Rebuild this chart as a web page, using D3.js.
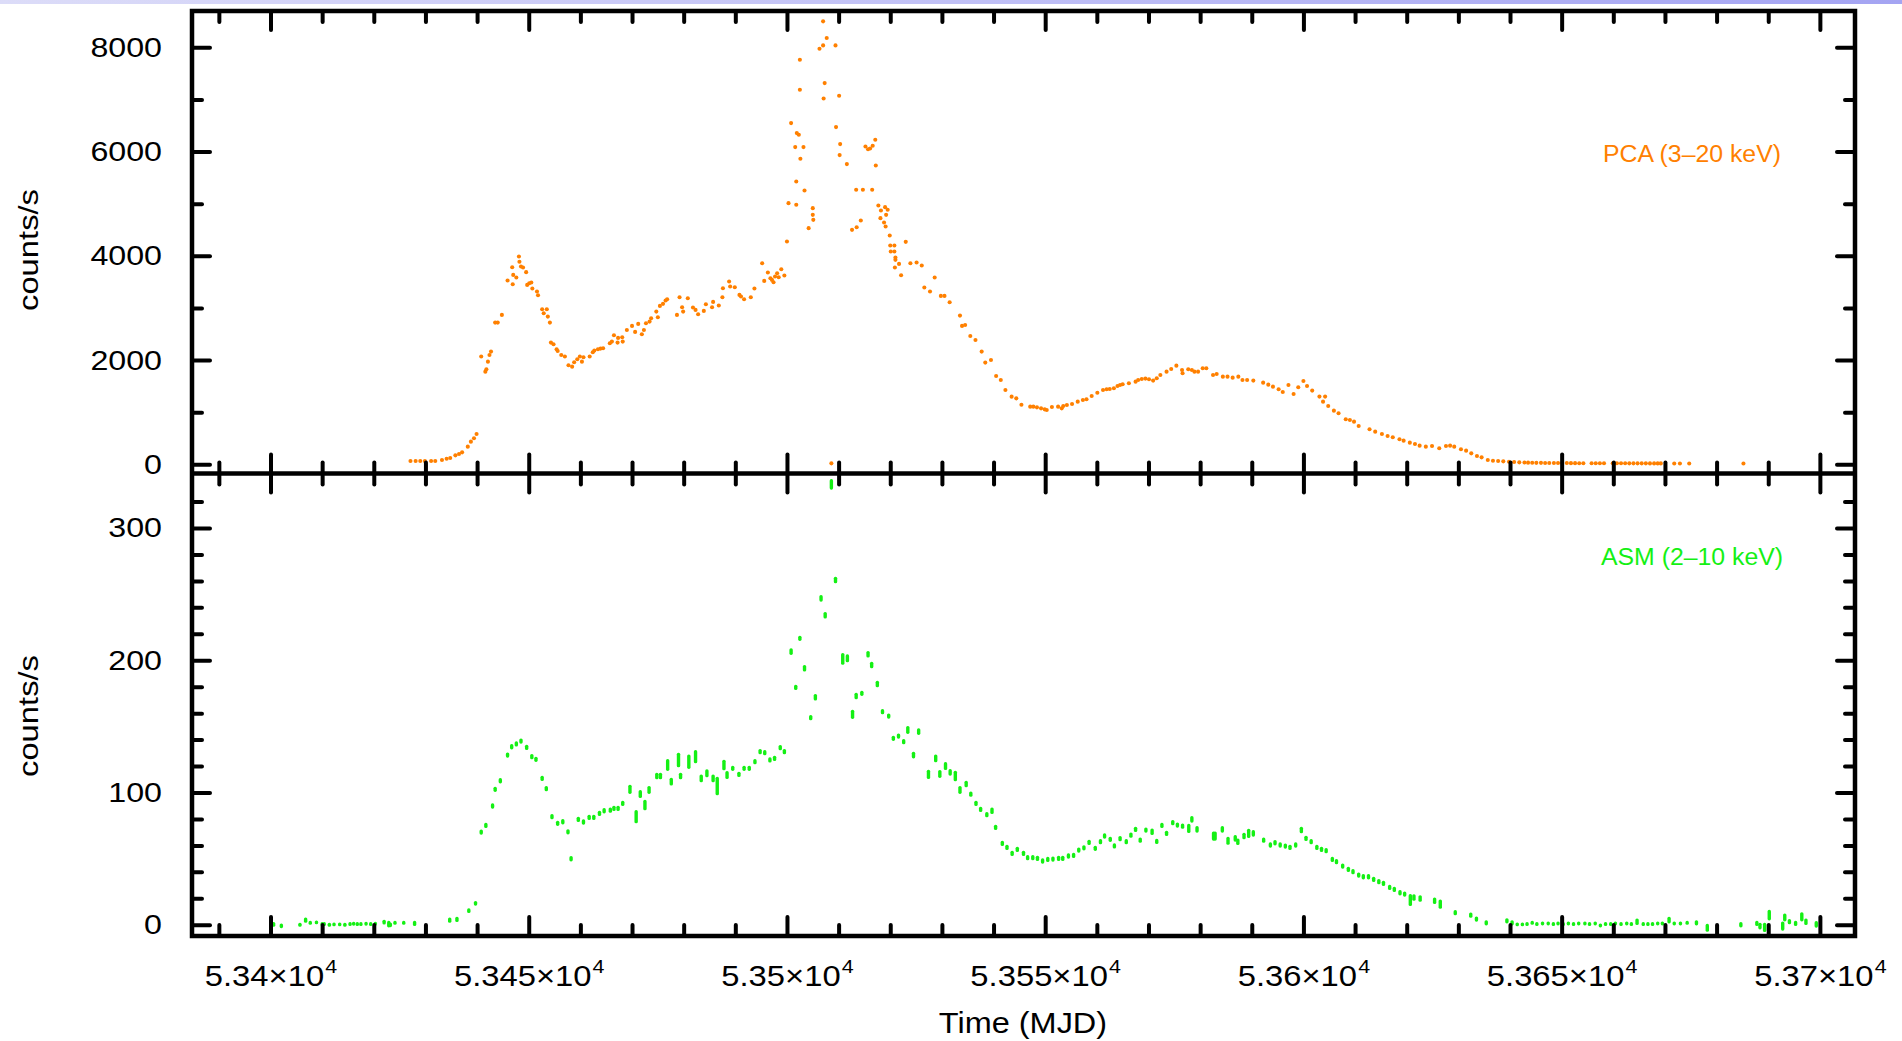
<!DOCTYPE html>
<html><head><meta charset="utf-8">
<script src="https://cdn.jsdelivr.net/npm/d3@7"></script>
<style>
html,body{margin:0;padding:0;background:#fff;overflow:hidden;}
svg{display:block;}
text{font-family:"Liberation Sans",Arial,Helvetica,sans-serif;}
</style></head><body>
<svg id="chart" width="1902" height="1041"></svg>
<script>
// ---------- DATA ----------
// PCA (3-20 keV) light curve: [MJD, counts/s]
const pcaData = [
[53427.1,63],[53428.1,63],[53429.0,63],[53429.9,63],[53431.1,63],[53431.9,63],[53433.2,83],[53434.1,108],
[53434.8,121],[53435.8,172],[53436.5,198],[53437.1,230],[53438.2,339],[53438.8,435],[53439.4,499],[53439.9,582],
[53440.8,2067],[53441.6,1778],[53441.8,1823],[53442.1,1970],[53442.4,2098],[53442.7,2162],[53443.5,2719],[53444.0,2719],
[53444.8,2866],[53445.9,3525],[53446.8,3781],[53446.9,3455],[53447.0,3634],[53447.6,3583],[53448.1,3987],[53448.2,3885],
[53448.5,3795],[53448.9,3775],[53449.5,3686],[53449.7,3442],[53450.1,3474],[53450.5,3487],[53450.7,3372],[53451.6,3314],
[53451.8,3244],[53452.6,2975],[53452.9,2898],[53453.5,2975],[53453.7,2834],[53454.1,2719],[53454.3,2335],[53454.8,2303],
[53455.4,2207],[53455.6,2175],[53456.3,2098],[53457.0,2067],[53457.7,1900],[53458.4,1874],[53458.8,1957],[53459.4,2015],
[53459.9,2067],[53460.3,1970],[53460.6,2053],[53461.8,2067],[53462.4,2150],[53462.7,2182],[53463.4,2207],[53463.9,2220],
[53464.4,2226],[53465.7,2322],[53466.1,2354],[53466.5,2476],[53467.2,2335],[53467.3,2425],[53468.1,2438],[53468.2,2354],
[53469.0,2578],[53470.0,2655],[53470.6,2540],[53471.2,2694],[53471.9,2495],[53472.3,2578],[53472.7,2706],[53473.4,2738],
[53473.7,2802],[53474.7,2930],[53475.0,2821],[53475.4,3039],[53476.0,3078],[53476.5,3142],[53476.8,3167],[53478.7,2866],
[53479.2,3206],[53479.7,3014],[53479.9,2930],[53480.8,3187],[53481.8,3007],[53482.3,2962],[53482.8,2879],[53483.9,2943],
[53484.3,3071],[53485.5,3014],[53485.7,3116],[53486.8,3046],[53487.5,3206],[53487.6,3378],[53488.8,3506],[53489.0,3410],
[53489.9,3397],[53490.8,3250],[53491.1,3218],[53491.7,3167],[53493.0,3206],[53493.7,3372],[53495.2,3858],[53495.6,3519],
[53496.3,3679],[53496.8,3570],[53497.1,3538],[53497.4,3493],[53497.7,3602],[53498.1,3666],[53498.4,3589],[53498.9,3743],
[53499.5,3621],[53500.0,4274],[53500.3,5010],[53500.8,6546],[53501.6,6085],[53501.8,4978],[53501.8,5426],[53501.9,6354],
[53502.3,6322],[53502.5,7185],[53502.5,7761],[53502.6,5861],[53503.2,6085],[53503.4,5253],[53504.2,4530],[53505.0,4914],
[53505.0,4786],[53505.1,4690],[53506.3,7972],[53507.0,8036],[53507.0,8497],[53507.1,7018],[53507.3,7313],[53507.7,8177],
[53508.6,19],[53509.4,8036],[53509.5,6469],[53510.1,7070],[53510.2,5932],[53510.3,6143],[53511.6,5759],[53512.6,4498],
[53513.4,5266],[53513.5,4549],[53514.3,4677],[53514.7,5266],[53515.2,6098],[53515.7,6045],[53516.1,6059],[53516.5,5266],
[53516.6,6110],[53517.1,6226],[53517.2,5733],[53517.7,4965],[53518.1,4722],[53518.2,4869],[53518.8,4639],[53519.0,4933],
[53519.1,4562],[53519.2,4786],[53519.5,4882],[53519.9,4389],[53520.0,4197],[53520.1,4082],[53520.8,4197],[53520.8,4082],
[53520.9,3775],[53521.0,3967],[53521.0,3922],[53521.7,3845],[53522.1,3628],[53523.0,4268],[53523.9,3858],[53525.1,3871],
[53526.1,3813],[53526.6,3391],[53527.7,3314],[53528.6,3583],[53529.8,3231],[53530.5,3231],[53531.5,3109],[53533.5,2853],
[53533.9,2655],[53534.5,2674],[53535.5,2463],[53536.5,2386],[53537.7,2162],[53538.4,1951],[53539.5,2002],[53540.5,1695],
[53541.4,1618],[53542.3,1426],[53543.5,1298],[53544.4,1266],[53545.4,1144],[53547.1,1106],[53547.7,1106],[53548.4,1093],
[53549.2,1074],[53549.9,1055],[53550.3,1042],[53551.3,1099],[53552.5,1106],[53553.2,1074],[53553.5,1118],[53554.2,1138],
[53555.2,1157],[53556.3,1202],[53557.3,1234],[53558.0,1247],[53559.0,1310],[53560.1,1374],[53561.2,1427],[53561.9,1440],
[53562.5,1446],[53563.3,1459],[53564.0,1502],[53564.5,1522],[53565.0,1535],[53566.2,1554],[53567.5,1586],[53568.0,1618],
[53568.7,1638],[53569.4,1644],[53570.1,1632],[53570.9,1606],[53571.6,1650],[53572.3,1714],[53573.5,1778],[53574.4,1829],
[53575.4,1893],[53576.5,1810],[53576.6,1746],[53577.7,1823],[53578.4,1810],[53578.9,1778],[53579.6,1778],[53580.5,1842],
[53581.2,1842],[53582.5,1714],[53583.2,1734],[53584.4,1682],[53585.3,1682],[53586.3,1663],[53587.4,1682],[53588.2,1618],
[53589.1,1618],[53590.3,1606],[53592.2,1567],[53593.2,1528],[53594.1,1490],[53595.2,1440],[53596.0,1388],[53597.1,1522],
[53598.1,1350],[53599.0,1478],[53600.0,1599],[53600.7,1502],[53601.7,1414],[53603.1,1299],[53603.8,1202],[53604.2,1299],
[53604.8,1119],[53605.9,1030],[53606.8,979],[53608.2,864],[53609.0,851],[53609.8,819],[53610.7,736],[53612.8,672],
[53613.9,627],[53615.2,582],[53616.3,544],[53617.3,518],[53618.6,480],[53619.4,454],[53620.6,416],[53621.6,390],
[53622.5,358],[53623.7,339],[53624.9,352],[53626.3,307],[53627.6,352],[53628.4,358],[53629.2,339],[53630.5,288],
[53631.5,262],[53632.5,211],[53633.6,160],[53634.5,134],[53635.7,83],[53636.7,70],[53637.7,63],[53638.7,57],
[53639.8,50],[53640.8,44],[53641.8,38],[53642.8,35],[53643.5,32],[53644.3,30],[53645.1,28],[53646.0,28],
[53646.8,26],[53647.6,26],[53648.5,25],[53649.3,25],[53650.1,24],[53651.0,24],[53651.8,23],[53652.6,23],
[53653.4,22],[53654.2,22],[53655.8,22],[53656.6,21],[53657.4,21],[53658.2,21],[53659.9,20],[53660.7,20],
[53661.5,20],[53662.3,20],[53663.1,19],[53663.9,19],[53664.7,19],[53665.5,19],[53666.3,19],[53667.1,18],
[53667.9,18],[53668.6,18],[53669.2,18],[53671.8,17],[53672.9,17],[53674.7,17],[53685.2,17]
];
// ASM (2-10 keV) light curve: [MJD, counts/s, error]
const asmData = [
[53400.6,0.3,1.8],[53402.1,-0.8,1.8],[53405.7,0,1.5],[53406.8,3.5,2],[53407.7,1.5,1.5],[53408.9,1.8,1.5],[53410.0,0.5,1.5],
[53410.4,0.5,1.5],[53411.4,0,1.5],[53412.3,0.3,1.5],[53413.4,0.3,1.5],[53414.4,0,1.5],[53415.4,0.5,1.5],[53416.1,0.8,1.5],
[53416.8,0.5,1.5],[53417.5,0.5,1.5],[53418.5,0.8,1.5],[53419.4,0.5,1.5],[53420.3,0.8,1.5],[53422.0,2,1.8],[53422.9,0.5,2.5],
[53423.2,0,1.8],[53424.1,1.5,1.5],[53425.8,1.5,1.5],[53427.9,1,2],[53434.7,3.5,2],[53436.1,4,2],[53438.4,10.6,1.8],
[53439.7,16.2,1.8],[53440.8,70.1,2],[53441.7,75.1,2],[53443.0,89.8,2],[53443.5,102.4,2],[53444.5,108.9,2],[53445.9,128.3,2],
[53446.7,134.6,2],[53447.6,136.7,2],[53448.5,138.9,2],[53449.6,134.1,2],[53450.6,127.1,2],[53451.4,125.1,2],[53452.6,110.7,2],
[53453.4,102.9,2],[53454.5,81.7,2],[53455.6,76.7,2],[53456.6,77.9,2],[53457.6,70.3,2],[53458.2,49.9,2],[53459.6,79.7,2],
[53460.6,77.7,2],[53461.7,81.2,2],[53462.6,81.2,2],[53463.7,84.2,2],[53464.6,86.2,2],[53465.8,86.7,2],[53466.5,88,2],
[53467.3,88,2],[53468.2,91.8,2],[53469.6,102.4,3.5],[53470.8,81.7,5],[53471.6,98.8,3],[53472.5,90.5,4],[53473.3,101.9,3],
[53474.8,112.5,2.5],[53475.5,112.5,2.5],[53476.9,120.8,4.5],[53477.6,108.2,3],[53479.0,124.6,5.5],[53479.4,112.5,2.5],
[53481.0,123.3,5.5],[53482.3,127.1,5],[53483.4,110.7,3],[53484.5,114.5,3],[53485.7,110.7,3],[53486.5,104.9,7],
[53487.8,120.8,4],[53488.4,113.2,3],[53489.5,118.3,2],[53490.7,113.7,2],[53491.7,118.3,2],[53492.7,118.3,2],[53493.8,123.3,2],
[53494.8,130.9,2],[53495.7,130.1,2],[53496.7,124.6,2],[53497.6,125.8,2],[53498.7,133.9,2],[53499.5,130.9,2],
[53500.8,206.5,2.5],[53501.7,179.5,2],[53502.5,216.6,2],[53503.4,193.9,2.5],[53504.6,156.6,2],[53505.5,172,2.5],
[53506.6,246.8,2.5],[53507.4,234,2.5],[53508.6,333,4],[53509.4,260.7,2.5],[53510.8,201,4.5],[53511.7,201.5,3],
[53512.7,159.1,3.5],[53513.4,173,2.5],[53514.5,175,2],[53515.7,204.5,2.5],[53516.4,196.4,2.5],[53517.5,182,2.5],
[53518.5,161.1,2],[53519.7,157.8,2],[53520.6,141,2],[53521.6,142.7,2],[53522.6,138.4,2],[53523.4,147.3,3],[53524.5,128.3,2.5],
[53525.5,146,2.5],[53527.4,113.7,3.5],[53528.8,125.8,3],[53529.6,114,3],[53530.7,120,3],[53531.6,115.2,2.5],[53532.6,112.5,4],
[53533.5,101.9,3],[53534.7,106.4,2.5],[53535.6,98.8,2],[53536.6,91.8,2],[53537.5,87.2,2],[53538.7,83.2,2],[53539.7,86.2,2.5],
[53540.4,73.6,2],[53541.7,61.5,2],[53542.6,58.5,2],[53543.6,54,2],[53544.6,57,2],[53545.8,54,2],[53546.6,50.7,2],
[53547.6,50.7,2],[53548.5,50.2,2],[53549.5,48.2,2],[53550.5,49.4,2],[53551.5,49.7,2],[53552.6,50.2,2],[53553.4,50.2,2],
[53554.5,52,2],[53555.5,52.4,2],[53556.5,56.5,2],[53557.5,58.2,2],[53558.5,62.3,2],[53559.7,57.8,2],[53560.7,62.8,2],
[53561.5,67.1,2],[53562.6,64.6,2],[53563.4,59.6,2],[53564.5,65.1,2],[53565.7,62.8,2],[53566.6,67.8,2],[53567.5,72.1,2],
[53568.4,64,2],[53569.5,71.6,2],[53570.7,70.3,2.5],[53571.6,63,2],[53572.6,75.1,2],[53573.5,69.1,2],[53574.7,77.2,2],
[53575.6,75.4,2],[53576.6,74.6,2],[53577.8,72.8,3.5],[53578.4,79.7,2.5],[53579.4,72.1,2.5],[53582.6,67.1,3.5],
[53582.9,67.1,3.5],[53584.3,72.1,2.5],[53585.4,63.5,3],[53586.8,65.3,2.5],[53587.3,62.8,2.5],[53588.5,67.1,2.5],
[53589.4,69.1,3.5],[53590.3,69.1,2.5],[53592.3,64,2],[53593.6,60.3,2],[53594.5,62,2],[53595.5,60.3,2],[53596.5,59.5,2],
[53597.4,58.5,2],[53598.5,60.3,2],[53599.6,71.6,2.5],[53600.5,65.3,2],[53601.5,62.8,2],[53602.6,58.5,2],[53603.5,57,2],
[53604.4,56,2],[53605.6,49.4,2],[53606.4,47.7,2],[53607.6,44.4,2],[53608.7,41.9,2],[53609.6,40.1,2],[53610.7,37.6,2],
[53611.6,36.3,2],[53612.6,36.3,2],[53613.6,34.3,2],[53614.6,32.6,2],[53615.5,31.3,2],[53616.7,28.2,2],[53617.6,26.7,2],
[53618.7,24.2,2],[53619.6,23.2,2],[53620.7,18.7,4.5],[53621.4,20.6,2.5],[53622.6,19.9,2.5],[53625.4,18.2,2.5],
[53626.5,15.6,3.5],[53629.4,9.1,2],[53632.4,7.3,2],[53633.5,4.3,2],[53635.4,1.5,2],[53639.4,3,2],[53640.4,1.5,2],
[53641.4,0.3,1.5],[53642.4,0.3,1.5],[53643.3,0.5,1.5],[53644.3,1.5,1.5],[53645.2,0.5,1.5],[53646.3,1,1.5],[53647.4,1,1.5],
[53648.4,0.5,1.5],[53649.3,1,1.5],[53650.3,0.5,1.5],[53651.3,1,1.5],[53652.3,0.5,1.5],[53653.3,1,1.5],[53654.5,1,1.5],
[53655.4,0.5,1.5],[53656.5,1,1.5],[53657.5,-0.5,1.5],[53658.5,0.5,1.5],[53659.5,0.5,1.5],[53660.4,1,1.5],[53661.5,0.5,1.5],
[53662.6,1,1.5],[53663.5,0.5,1.5],[53664.6,2.3,2.5],[53665.8,0.5,1.5],[53666.7,0.5,1.5],[53667.6,0.5,1.5],[53668.6,1,1.5],
[53669.5,1,1.5],[53670.8,3.5,2.5],[53671.8,1,1.5],[53673.0,1,1.5],[53674.3,1.5,1.5],[53676.1,1.5,2],[53678.2,-2.3,3],
[53684.7,0,2],[53687.8,1,2],[53688.4,-1,2.5],[53689.3,-2,3.5],[53690.2,7.3,4],[53692.8,-1,3.5],[53693.2,5.5,3],
[53694.1,2.3,2],[53695.3,1,2],[53696.5,6,3.5],[53697.3,2.3,2.5],[53699.3,0.3,2.5]
];
const xMajorTicks = [53400, 53450, 53500, 53550, 53600, 53650, 53700];
const xTickMantissa = ["5.34", "5.345", "5.35", "5.355", "5.36", "5.365", "5.37"];
const xTickExponent = "4";
const pcaYTicks = [0, 2000, 4000, 6000, 8000];
const asmYTicks = [0, 100, 200, 300];
const pcaLabel = "PCA (3–20 keV)";
const asmLabel = "ASM (2–10 keV)";
const yTitle = "counts/s";
const xTitle = "Time (MJD)";

// ---------- LAYOUT ----------
const W = 1902, H = 1041;
const L = 192, R = 1855, T = 11, M = 473.5, B = 936;
const orange = "#ff8000", green = "#14f014";
const svg = d3.select("#chart");

const defs = svg.append("defs");
const grad = defs.append("linearGradient").attr("id", "band").attr("x1", 0).attr("x2", 1).attr("y1", 0).attr("y2", 0);
grad.append("stop").attr("offset", "0%").attr("stop-color", "#dcdcf8");
grad.append("stop").attr("offset", "100%").attr("stop-color", "#a4a4f2");
svg.append("rect").attr("x", 0).attr("y", 0).attr("width", W).attr("height", 4).attr("fill", "url(#band)");

const x = d3.scaleLinear().domain([53384.8, 53706.8]).range([L, R]);
const y1 = d3.scaleLinear().domain([-176, 8696]).range([M, T]);
const y2 = d3.scaleLinear().domain([-8.5, 341.2]).range([B, M]);

defs.append("clipPath").attr("id", "c1").append("rect").attr("x", L).attr("y", T).attr("width", R - L).attr("height", M - T);
defs.append("clipPath").attr("id", "c2").append("rect").attr("x", L).attr("y", M).attr("width", R - L).attr("height", B - M);

// data marks
svg.append("g").attr("clip-path", "url(#c1)")
  .selectAll("circle").data(pcaData).join("circle")
  .attr("cx", d => x(d[0])).attr("cy", d => y1(d[1])).attr("r", 2.05).attr("fill", orange);

svg.append("g").attr("clip-path", "url(#c2)")
  .selectAll("rect").data(asmData).join("rect")
  .attr("x", d => x(d[0]) - 1.7).attr("width", 3.4)
  .attr("y", d => y2(d[1] + d[2]))
  .attr("height", d => y2(d[1] - d[2]) - y2(d[1] + d[2]))
  .attr("rx", 1.6).attr("fill", green);

// ---------- AXES ----------
const xMinor = d3.range(53390, 53707, 10).filter(v => !xMajorTicks.includes(v));
function styleAxis(g) {
  g.select(".domain").remove();
  g.selectAll(".tick line").attr("stroke", "#000").attr("stroke-width", 4).attr("stroke-linecap", "round");
}
function xAxisPair(yPos, gen, majorLen, minorLen) {
  svg.append("g").attr("transform", `translate(0,${yPos})`)
    .call(gen(x).tickValues(xMajorTicks).tickSize(majorLen).tickFormat(""))
    .call(styleAxis);
  svg.append("g").attr("transform", `translate(0,${yPos})`)
    .call(gen(x).tickValues(xMinor).tickSize(minorLen).tickFormat(""))
    .call(styleAxis);
}
xAxisPair(T, d3.axisTop, -19, -11);
xAxisPair(M, d3.axisBottom, -19, -11);
xAxisPair(M, d3.axisTop, -19, -11);
const xb = svg.append("g").attr("transform", `translate(0,${B})`)
  .call(d3.axisBottom(x).tickValues(xMajorTicks).tickSize(-19).tickFormat((d, i) => xTickMantissa[i] + "×10"))
  .call(styleAxis);
xb.attr("font-size", null).attr("font-family", null);
xb.selectAll(".tick text")
  .attr("y", 50).attr("dy", 0).attr("fill", "#000")
  .style("font-size", "29px")
  .attr("transform", "scale(1.13,1)")
  .each(function () {
    d3.select(this).append("tspan").attr("dy", -13).attr("dx", 1).style("font-size", "19px").text(xTickExponent);
  });
svg.append("g").attr("transform", `translate(0,${B})`)
  .call(d3.axisBottom(x).tickValues(xMinor).tickSize(-11).tickFormat(""))
  .call(styleAxis);

function yAxes(scale, majors, minors) {
  const gl = svg.append("g").attr("transform", `translate(${L},0)`)
    .call(d3.axisLeft(scale).tickValues(majors).tickSize(-18).tickPadding(30).tickFormat(d3.format("d")))
    .call(styleAxis);
  gl.attr("font-size", null).attr("font-family", null);
  gl.selectAll(".tick text").attr("fill", "#000").style("font-size", "28px")
    .attr("x", -30 / 1.15).attr("transform", "scale(1.15,1)");
  svg.append("g").attr("transform", `translate(${L},0)`)
    .call(d3.axisLeft(scale).tickValues(minors).tickSize(-10).tickFormat("")).call(styleAxis);
  svg.append("g").attr("transform", `translate(${R},0)`)
    .call(d3.axisRight(scale).tickValues(majors).tickSize(-18).tickFormat("")).call(styleAxis);
  svg.append("g").attr("transform", `translate(${R},0)`)
    .call(d3.axisRight(scale).tickValues(minors).tickSize(-10).tickFormat("")).call(styleAxis);
}
yAxes(y1, pcaYTicks, [1000, 3000, 5000, 7000]);
yAxes(y2, asmYTicks, d3.range(20, 340, 20).filter(v => !asmYTicks.includes(v)));

// frame
svg.append("rect").attr("x", L).attr("y", T).attr("width", R - L).attr("height", B - T)
  .attr("fill", "none").attr("stroke", "#000").attr("stroke-width", 4.5);
svg.append("line").attr("x1", L).attr("x2", R).attr("y1", M).attr("y2", M)
  .attr("stroke", "#000").attr("stroke-width", 4.5);

// titles
[250, 716].forEach(cy => {
  svg.append("text").attr("transform", `translate(38,${cy}) rotate(-90) scale(1.17,1)`)
    .attr("text-anchor", "middle").style("font-size", "28px").attr("fill", "#000").text(yTitle);
});
svg.append("text").attr("transform", `translate(1023,1033) scale(1.12,1)`)
  .attr("text-anchor", "middle").style("font-size", "29px").attr("fill", "#000").text(xTitle);

// legends
svg.append("text").attr("transform", `translate(1692,162) scale(1.035,1)`)
  .attr("text-anchor", "middle").style("font-size", "24px").attr("fill", orange).text(pcaLabel);
svg.append("text").attr("transform", `translate(1692,565) scale(1.035,1)`)
  .attr("text-anchor", "middle").style("font-size", "24px").attr("fill", green).text(asmLabel);
</script>
</body></html>
